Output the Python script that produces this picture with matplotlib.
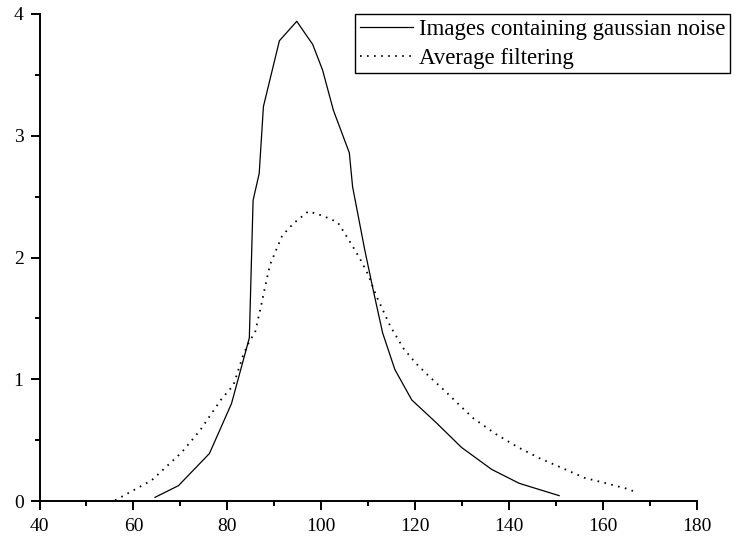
import matplotlib
matplotlib.use("Agg")
import matplotlib.pyplot as plt
from matplotlib.ticker import MultipleLocator

plt.rcParams['font.family'] = ['Liberation Serif', 'DejaVu Serif']

noisy_x = [64.6, 69.6, 76.2, 80.9, 84.7, 85.5, 86.8, 87.7, 91.1, 94.8, 98.2, 100.3,
           102.6, 106.0, 106.7, 109.3, 111.1, 113.1, 115.7, 119.3, 124.6, 129.9,
           136.3, 142.2, 150.7]
noisy_y = [0.03, 0.126, 0.39, 0.80, 1.34, 2.47, 2.69, 3.24, 3.78, 3.94, 3.75, 3.54,
           3.21, 2.86, 2.58, 2.06, 1.73, 1.38, 1.08, 0.83, 0.64, 0.44,
           0.26, 0.145, 0.044]

avg_x = [56.1, 57.5, 63.9, 70.3, 74.2, 78.8, 81.3, 83.4, 84.8, 85.9, 86.6, 87.3,
         88.0, 89.1, 90.4, 91.7, 94.1, 97.3, 100.5, 103.5, 104.5, 106.6, 108.4,
         110.0, 111.8, 114.8, 117.6, 120.2, 123.1, 126.2, 129.4, 132.4, 137.2,
         142.0, 146.6, 151.4, 156.1, 160.8, 165.6, 167.1]
avg_y = [0.006, 0.035, 0.17, 0.40, 0.58, 0.84, 0.95, 1.20, 1.32, 1.38, 1.50, 1.62,
         1.75, 1.94, 2.06, 2.18, 2.28, 2.38, 2.34, 2.29, 2.23, 2.10, 1.98,
         1.86, 1.68, 1.43, 1.25, 1.13, 1.02, 0.91, 0.79, 0.68, 0.55,
         0.44, 0.35, 0.27, 0.19, 0.145, 0.096, 0.07]

labels = ['Images containing gaussian noise', 'Average filtering']

fig = plt.figure(figsize=(7.36, 5.42), dpi=100)
ax = fig.add_axes([39.5/736, 1-501/542, (696.7-39.5)/736, (501-14)/542])

ax.plot(noisy_x, noisy_y, color='black', lw=0.9, label=labels[0])
ax.plot(avg_x, avg_y, color='black', lw=1.3, linestyle=(0, (0.9, 3.0)),
        dash_capstyle='butt', label=labels[1])

ax.set_xlim(40, 180)
ax.set_ylim(0, 4)
ax.xaxis.set_major_locator(MultipleLocator(20))
ax.xaxis.set_minor_locator(MultipleLocator(10))
ax.yaxis.set_major_locator(MultipleLocator(1))
ax.yaxis.set_minor_locator(MultipleLocator(0.5))
for s in ['top', 'right']:
    ax.spines[s].set_visible(False)
for s in ['left', 'bottom']:
    ax.spines[s].set_linewidth(1.4)
ax.tick_params(which='major', direction='out', length=6.5, width=1.4, labelsize=14)
ax.tick_params(which='minor', direction='out', length=3.6, width=1.4)
ax.tick_params(axis='x', which='major', pad=6)
ax.tick_params(axis='y', which='major', pad=5)

leg = ax.legend(loc='upper right', bbox_to_anchor=(730/736, 1-14/542),
                bbox_transform=fig.transFigure, borderaxespad=0, fancybox=False,
                edgecolor='black', framealpha=1, fontsize=16.5, handlelength=2.3,
                handletextpad=0.28, borderpad=0.2, labelspacing=0.35)
leg.get_frame().set_linewidth(1.0)

fig.savefig('out.png', dpi=100)
